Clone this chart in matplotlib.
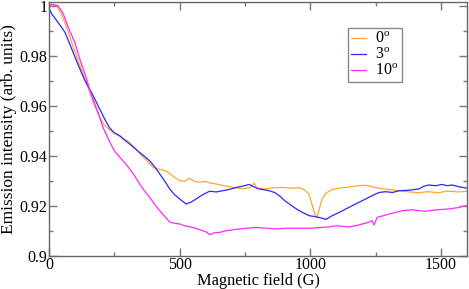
import matplotlib
matplotlib.use("Agg")
import matplotlib.pyplot as plt
from matplotlib.ticker import MultipleLocator, FuncFormatter

plt.rcParams['font.family'] = ['Liberation Serif', 'DejaVu Serif']
plt.rcParams['mathtext.fontset'] = 'custom'
plt.rcParams['mathtext.rm'] = 'Liberation Serif'
plt.rcParams['mathtext.it'] = 'Liberation Serif:italic'

labels = ['0$^{\\rm o}$', '3$^{\\rm o}$', '10$^{\\rm o}$']
colors = ['#ffa530', '#2828ff', '#ff28ff']

field_0 = [0, 15, 30, 45, 60, 75, 90, 110, 130, 150, 170, 190, 210, 230, 250, 275, 300,
           325, 350, 375, 400, 425, 450, 475, 500, 520, 538, 555, 576, 600, 620, 640, 660,
           680, 704, 725, 745, 770, 786, 795, 830, 860, 895, 930, 958, 980, 996, 1008,
           1018, 1026, 1034, 1045, 1060, 1085, 1110, 1136, 1170, 1212, 1240, 1263, 1300,
           1340, 1380, 1416, 1450, 1492, 1520, 1543, 1570, 1600]
emis_0 = [0.9995, 1.0002, 1.0000, 0.9972, 0.9935, 0.9890, 0.9843, 0.9785, 0.9727, 0.9672,
          0.9612, 0.9562, 0.9525, 0.9505, 0.9490, 0.9475, 0.9460, 0.9435, 0.9405, 0.9380,
          0.9352, 0.9345, 0.9338, 0.9318, 0.9300, 0.9298, 0.9310, 0.9298, 0.9294, 0.9297,
          0.9290, 0.9287, 0.9282, 0.9278, 0.9273, 0.9270, 0.9268, 0.9272, 0.9290, 0.9270,
          0.9267, 0.9272, 0.9273, 0.9270, 0.9272, 0.9262, 0.9245, 0.9200, 0.9165, 0.9152,
          0.9185, 0.9225, 0.9250, 0.9265, 0.9270, 0.9273, 0.9278, 0.9282, 0.9275, 0.9270,
          0.9265, 0.9260, 0.9255, 0.9252, 0.9256, 0.9252, 0.9258, 0.9257, 0.9255, 0.9258]

field_3 = [0, 10, 35, 61, 86, 112, 137, 163, 188, 214, 233, 250, 271, 290, 309, 330, 347,
           365, 385, 405, 424, 445, 462, 480, 500, 525, 545, 563, 590, 615, 640, 665, 690,
           716, 740, 767, 785, 805, 843, 865, 882, 900, 920, 940, 958, 980, 996, 1015, 1034,
           1045, 1060, 1080, 1098, 1120, 1136, 1155, 1174, 1195, 1212, 1237, 1263, 1289,
           1315, 1340, 1378, 1416, 1435, 1454, 1480, 1505, 1525, 1543, 1569, 1600]
emis_3 = [0.9990, 0.9968, 0.9933, 0.9894, 0.9830, 0.9762, 0.9702, 0.9652, 0.9600, 0.9545,
          0.9510, 0.9492, 0.9480, 0.9462, 0.9447, 0.9428, 0.9413, 0.9398, 0.9380, 0.9355,
          0.9327, 0.9295, 0.9267, 0.9245, 0.9227, 0.9207, 0.9215, 0.9227, 0.9245, 0.9258,
          0.9255, 0.9260, 0.9265, 0.9273, 0.9278, 0.9285, 0.9275, 0.9267, 0.9260, 0.9252,
          0.9240, 0.9222, 0.9207, 0.9192, 0.9180, 0.9168, 0.9160, 0.9157, 0.9153, 0.9150,
          0.9145, 0.9158, 0.9167, 0.9178, 0.9187, 0.9197, 0.9207, 0.9218, 0.9227, 0.9240,
          0.9253, 0.9256, 0.9253, 0.9260, 0.9262, 0.9267, 0.9278, 0.9283, 0.9280, 0.9285,
          0.9280, 0.9283, 0.9276, 0.9270]

field_10 = [0, 10, 35, 55, 74, 99, 118, 144, 163, 188, 207, 233, 250, 271, 290, 309, 330,
            347, 365, 385, 405, 424, 445, 462, 480, 500, 525, 551, 575, 602, 615, 635, 653,
            678, 700, 729, 760, 793, 831, 869, 907, 958, 1009, 1040, 1073, 1100, 1149, 1175,
            1200, 1220, 1237, 1244, 1256, 1280, 1302, 1330, 1352, 1390, 1415, 1442, 1470,
            1492, 1530, 1550, 1569, 1585, 1600]
emis_10 = [0.9993, 1.0007, 1.0000, 0.9967, 0.9913, 0.9853, 0.9787, 0.9707, 0.9640, 0.9573,
           0.9513, 0.9454, 0.9420, 0.9394, 0.9372, 0.9347, 0.9315, 0.9287, 0.9260, 0.9234,
           0.9205, 0.9180, 0.9155, 0.9135, 0.9130, 0.9127, 0.9118, 0.9113, 0.9105, 0.9095,
           0.9084, 0.9092, 0.9093, 0.9100, 0.9103, 0.9107, 0.9110, 0.9113, 0.9110, 0.9107,
           0.9110, 0.9110, 0.9110, 0.9113, 0.9115, 0.9120, 0.9115, 0.9120, 0.9127, 0.9133,
           0.9140, 0.9123, 0.9153, 0.9160, 0.9167, 0.9174, 0.9180, 0.9184, 0.9180, 0.9178,
           0.9182, 0.9184, 0.9187, 0.9190, 0.9193, 0.9198, 0.9200]

xticks = [0, 500, 1000, 1500]
yticks = [0.9, 0.92, 0.94, 0.96, 0.98, 1.0]

fig = plt.figure(figsize=(4.69, 2.89), dpi=100)
ax = fig.add_axes([49/469, 1-255.7/289, (467-49)/469, (255.7-2)/289])

for x, y, c, l in zip([field_0, field_3, field_10], [emis_0, emis_3, emis_10], colors, labels):
    ax.plot(x, y, color=c, lw=0.9, label=l)

ax.set_xlim(0, 1600)
ax.set_ylim(0.9, 1.0015)
ax.set_xticks(xticks)
ax.set_yticks(yticks)
ax.xaxis.set_minor_locator(MultipleLocator(250))
ax.yaxis.set_minor_locator(MultipleLocator(0.01))
ax.xaxis.set_major_formatter(FuncFormatter(lambda v, p: '%g' % v))
ax.yaxis.set_major_formatter(FuncFormatter(lambda v, p: '%g' % round(v, 4)))
ax.tick_params(which='both', direction='in', top=True, right=True, color='#777777',
               labelsize=11.5, width=1)
ax.tick_params(which='major', length=6, pad=1)
ax.tick_params(which='minor', length=3)
for s in ax.spines.values():
    s.set_color('#666666')
    s.set_linewidth(1)

ax.set_xlabel('Magnetic field (G)', fontsize=11.8, labelpad=0)
ax.set_ylabel('Emission intensity (arb. units)', fontsize=12.5, labelpad=2)

leg = ax.legend(loc='upper left', bbox_to_anchor=((348-49)/418, 1-(28-2)/253.7),
                fontsize=11.5, handlelength=0.9, handletextpad=0.6, borderpad=0.2,
                labelspacing=0.0, fancybox=False, framealpha=1, borderaxespad=0)
leg.get_frame().set_edgecolor('#888888')
leg.get_frame().set_linewidth(1)

fig.savefig('out.png', dpi=100)
